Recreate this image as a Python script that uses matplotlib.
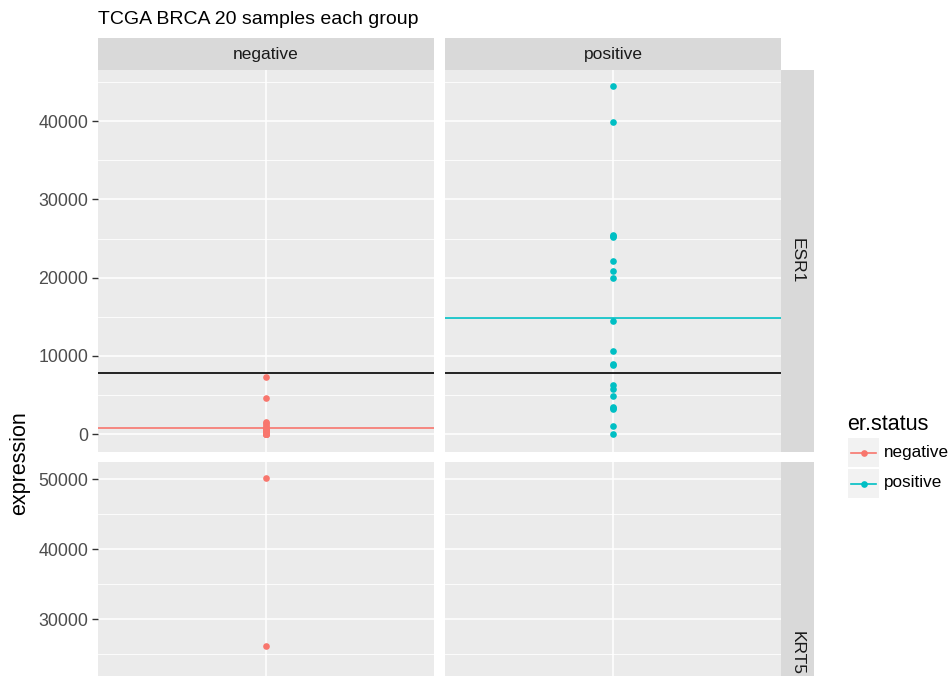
import matplotlib
matplotlib.use("Agg")
import matplotlib.pyplot as plt
from matplotlib.lines import Line2D
from matplotlib.patches import Rectangle

plt.rcParams['font.family'] = ['Liberation Sans', 'DejaVu Sans']

# data
groups = ["negative", "positive"]
genes = ["ESR1", "KRT5"]
esr1_negative = [7320, 4640, 1570, 1400, 1150, 950, 800, 600, 450, 350, 250, 150, 100, 60, 30, 10, 0, 0, 0, 0]
esr1_positive = [44450, 39950, 25500, 25300, 25200, 22080, 20880, 19990, 14410, 10650,
                 8950, 8850, 6270, 5710, 4900, 3500, 3300, 3200, 1060, 50]
krt5_negative = [50100, 26100]
krt5_positive = []
group_means = {"ESR1": [770, 14870]}
overall_mean = {"ESR1": 7820}
group_colors = ["#F8766D", "#00BFC4"]

W, H = 948, 676
fig = plt.figure(figsize=(W / 100, H / 100), dpi=100)
fig.patch.set_facecolor("white")


def box(x0, y0, x1, y1):
    return [x0 / W, 1 - y1 / H, (x1 - x0) / W, (y1 - y0) / H]


panel_x = [(98, 434), (445, 781)]
panel_y = [(70, 452), (462, 676)]
ylims = [(-2300, 46550), (21860, 52430)]
major = [[0, 10000, 20000, 30000, 40000], [30000, 40000, 50000]]
minor = [[5000, 15000, 25000, 35000, 45000], [25000, 35000, 45000]]
values = {("ESR1", 0): esr1_negative, ("ESR1", 1): esr1_positive,
          ("KRT5", 0): krt5_negative, ("KRT5", 1): krt5_positive}

for r, gene in enumerate(genes):
    for c, grp in enumerate(groups):
        ax = fig.add_axes(box(panel_x[c][0], panel_y[r][0], panel_x[c][1], panel_y[r][1]))
        ax.set_facecolor("#EBEBEB")
        for s in ax.spines.values():
            s.set_visible(False)
        ax.set_xlim(0.4, 1.6)
        ax.set_ylim(*ylims[r])
        for v in minor[r]:
            ax.axhline(v, color="white", lw=0.6, zorder=0)
        for v in major[r]:
            ax.axhline(v, color="white", lw=1.1, zorder=0)
        ax.axvline(1, color="white", lw=1.1, zorder=0)
        ys = values[(gene, c)]
        ax.plot([1] * len(ys), ys, "o", color=group_colors[c], ms=4.8, mec="none", zorder=3)
        if gene in group_means:
            ax.axhline(group_means[gene][c], color=group_colors[c], lw=1.2, zorder=2)
            ax.axhline(overall_mean[gene], color="black", lw=1.2, zorder=2)
        ax.set_xticks([])
        ax.set_yticks(major[r])
        if c == 0:
            ax.tick_params(axis="y", length=4, width=1, color="#333333", pad=3,
                           labelsize=12.8, labelcolor="#4D4D4D")
        else:
            ax.tick_params(axis="y", length=0, labelleft=False)

# top strips
for c, grp in enumerate(groups):
    sax = fig.add_axes(box(panel_x[c][0], 38, panel_x[c][1], 70))
    sax.set_axis_off()
    sax.add_patch(Rectangle((0, 0), 1, 1, transform=sax.transAxes, color="#D9D9D9"))
    sax.text(0.5, 0.5, grp, ha="center", va="center", fontsize=12.5, color="#1A1A1A",
             transform=sax.transAxes)

# right strips
for r, gene in enumerate(genes):
    sax = fig.add_axes(box(781, panel_y[r][0], 814, panel_y[r][1]))
    sax.set_axis_off()
    sax.add_patch(Rectangle((0, 0), 1, 1, transform=sax.transAxes, color="#D9D9D9"))
    ty = 0.5 if r == 0 else 1 - (653 - panel_y[r][0]) / (panel_y[r][1] - panel_y[r][0])
    sax.text(0.5, ty, gene, ha="center", va="center", rotation=-90, fontsize=12.5,
             color="#1A1A1A", transform=sax.transAxes)

fig.text(98 / W, 1 - 19 / H, "TCGA BRCA 20 samples each group", ha="left", va="center",
         fontsize=14, color="black")
fig.text(20 / W, 1 - 463 / H, "expression", ha="center", va="center", rotation=90,
         fontsize=15.5, color="black")

# legend
fig.text(847 / W, 1 - 424 / H, "er.status", ha="left", va="center", fontsize=15.5, color="black")
for i, grp in enumerate(groups):
    kax = fig.add_axes(box(848, 438 + i * 31, 879, 467 + i * 31))
    kax.set_xlim(0, 1)
    kax.set_ylim(0, 1)
    kax.set_facecolor("#F2F2F2")
    kax.set_xticks([])
    kax.set_yticks([])
    for s in kax.spines.values():
        s.set_visible(False)
    kax.add_line(Line2D([0.1, 0.9], [0.5, 0.5], color=group_colors[i], lw=1.2))
    kax.plot([0.5], [0.5], "o", color=group_colors[i], ms=4.8, mec="none")
    fig.text(884 / W, 1 - (452 + i * 31) / H, grp, ha="left", va="center",
             fontsize=12.3, color="black")

fig.savefig("out.png", dpi=100)
